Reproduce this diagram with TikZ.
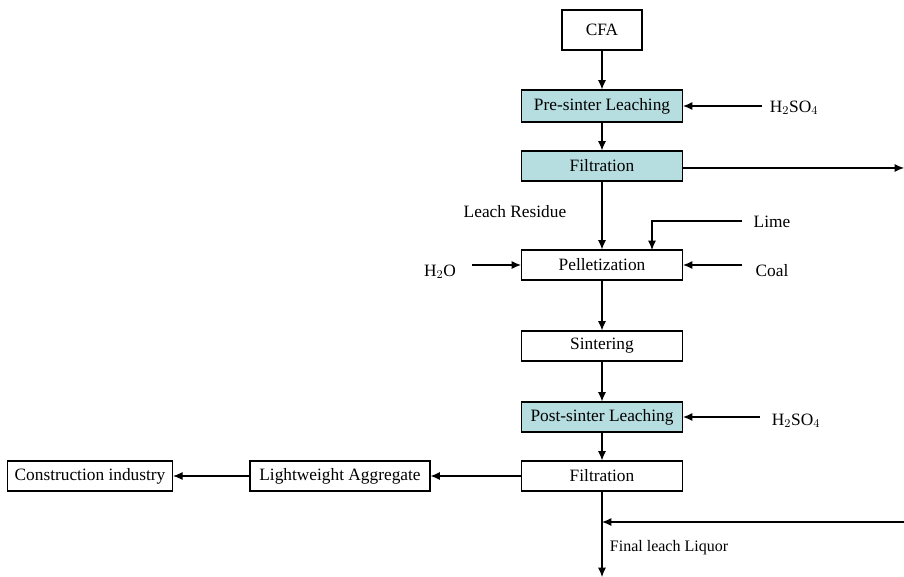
\documentclass[tikz,border=0pt]{standalone}
\usepackage{fontspec}
\setmainfont{Liberation Serif}
\usepackage{xcolor}
\usetikzlibrary{arrows.meta}

\definecolor{leachcol}{HTML}{B6DDDF}

\tikzset{
	unit/.style={draw=black, thick, fill=white, minimum width=120.75pt, minimum height=22.5pt, inner sep=1pt},
	leachunit/.style={unit, fill=leachcol},
	flow/.style={-{Latex[length=7pt,width=6pt]}, thick},
	tag/.style={inner sep=1pt}
}

\begin{document}
\begin{tikzpicture}[x=0.75pt, y=-0.75pt, font=\fontsize{13}{15}\selectfont]
	\useasboundingbox (0,0) rectangle (904,577);
	% process units
	\node[unit, minimum width=60pt, minimum height=30pt] (cfa) at (602,30) {CFA};
	\node[leachunit, minimum height=24pt] (pre) at (602,106) {Pre-sinter Leaching};
	\node[leachunit] (filt1) at (602,166) {Filtration};
	\node[unit] (pellet) at (602,265) {Pelletization};
	\node[unit] (sinter) at (602,346) {Sintering};
	\node[leachunit] (post) at (602,417) {Post-sinter Leaching};
	\node[unit] (filt2) at (602,476) {Filtration};
	\node[unit, minimum width=135pt] (lwa) at (340,476) {Lightweight Aggregate};
	\node[unit, minimum width=124pt, inner sep=0pt] (cons) at (90,476) {Construction industry};

	% inputs and labels
	\node[tag] (acid1) at (794,108) {H$_2$SO$_4$};
	\node[tag] (lime) at (772,222) {Lime};
	\node[tag] (coal) at (772,271) {Coal};
	\node[tag] (water) at (440,272) {H$_2$O};
	\node[tag] (acid2) at (796,421) {H$_2$SO$_4$};
	\node[tag] (resid) at (515,212) {Leach Residue};
	\node[tag, font=\fontsize{12}{14}\selectfont] (liquor) at (669,548) {Final leach Liquor};

	\coordinate (acid1s) at (762,106);
	\coordinate (limes) at (742,221);
	\coordinate (coals) at (742,265);
	\coordinate (waters) at (472,265);
	\coordinate (acid2s) at (760,417);
	\coordinate (out1) at (904,168);
	\coordinate (in2) at (904,522);
	\coordinate (join) at (602,522);
	\coordinate (out2) at (602,577);

	% main flow
	\draw[flow] (cfa) -- (pre);
	\draw[flow] (pre) -- (filt1);
	\draw[flow] (filt1) -- (pellet);
	\draw[flow] (pellet) -- (sinter);
	\draw[flow] (sinter) -- (post);
	\draw[flow] (post) -- (filt2);
	\draw[flow] (filt2) -- (lwa);
	\draw[flow] (lwa) -- (cons);
	\draw[flow] (filt2) -- (out2);
	\draw[flow] (filt1.east |- out1) -- (out1);
	\draw[flow] (in2) -- (join);

	% reagents
	\draw[flow] (acid1s) -- (pre.east |- acid1s);
	\draw[flow] (limes) -| (652,250);
	\draw[flow] (coals) -- (pellet.east |- coals);
	\draw[flow] (waters) -- (pellet.west |- waters);
	\draw[flow] (acid2s) -- (post.east |- acid2s);
\end{tikzpicture}
\end{document}
